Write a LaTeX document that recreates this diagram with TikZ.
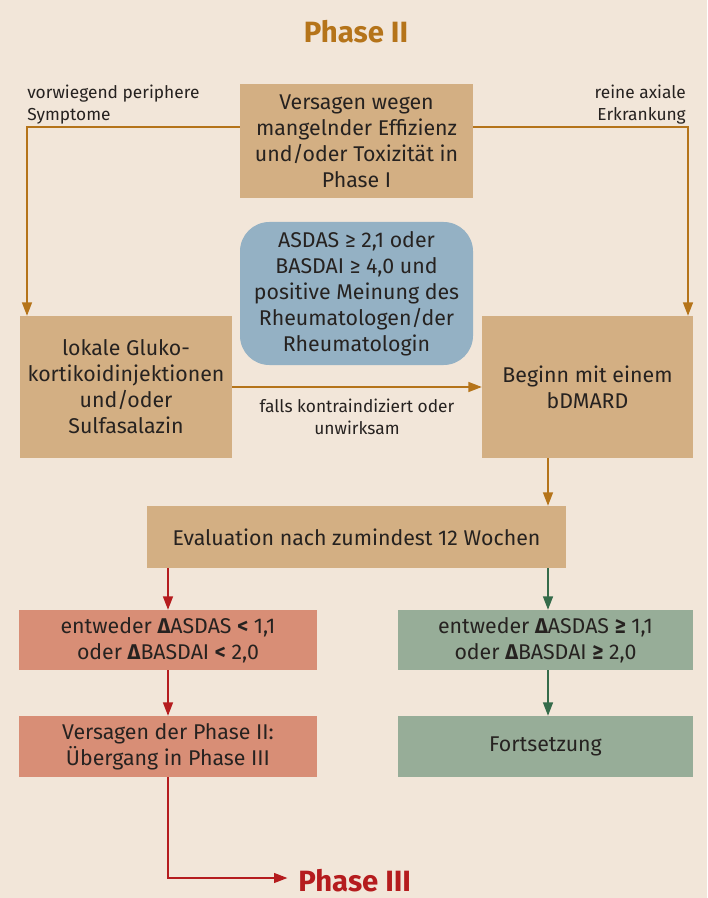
\documentclass[tikz,border=0pt]{standalone}
\usepackage{fontspec}
\setmainfont{Fira Sans}
\usetikzlibrary{arrows.meta}
\definecolor{bg}{HTML}{F2E6D9}
\definecolor{tan}{HTML}{D3AF83}
\definecolor{steel}{HTML}{94B1C4}
\definecolor{salmon}{HTML}{D88E76}
\definecolor{sage}{HTML}{97AD98}
\definecolor{brown}{HTML}{B5741A}
\definecolor{darkred}{HTML}{B51C1E}
\definecolor{darkgreen}{HTML}{356B4A}
\definecolor{ink}{HTML}{262220}
\newcommand{\dlt}{{\bfseries Δ}}

\begin{document}
\begin{tikzpicture}[x=0.75pt,y=-0.75pt,
    box/.style={inner sep=0pt, align=center, text=ink, font=\fontsize{16}{19.5}\selectfont},
    small/.style={inner sep=0pt, text=ink, font=\fontsize{13}{16.5}\selectfont},
    arr/.style={-{Triangle[length=10pt,width=7.5pt]}, line width=0.9pt}]
    \fill[bg] (0,0) rectangle (707,898);
    \useasboundingbox (0,0) rectangle (707,898);
    \node[text=brown, font=\fontsize{22}{26}\bfseries] (phaseii) at (356,32) {Phase II};
    \node[box, fill=tan, minimum width=174.75pt, minimum height=85.5pt] (fail) at (356.5,141) {Versagen wegen\\mangelnder Effizienz\\und/oder Toxizität in\\Phase I};
    \node[box, fill=steel, rounded corners=22pt, minimum width=174.75pt, minimum height=107.25pt] (crit) at (356.5,293.5) {ASDAS ≥ 2,1 oder\\BASDAI ≥ 4,0 und\\positive Meinung des\\Rheumatologen/der\\Rheumatologin};
    \node[box, fill=tan, minimum width=159pt, minimum height=106.5pt] (local) at (126,387) {lokale Gluko-\\kortikoidinjektionen\\und/oder\\Sulfasalazin};
    \node[box, fill=tan, minimum width=158.25pt, minimum height=106.5pt] (bdmard) at (587.5,387) {Beginn mit einem\\bDMARD};
    \node[box, fill=tan, minimum width=314.25pt, minimum height=46.5pt] (eval) at (356.5,537) {Evaluation nach zumindest 12 Wochen};
    \node[box, fill=salmon, minimum width=223.5pt, minimum height=45pt] (bad) at (168,640) {entweder \dlt ASDAS {\bfseries <} 1,1\\oder \dlt BASDAI {\bfseries <} 2,0};
    \node[box, fill=sage, minimum width=221.25pt, minimum height=45pt] (good) at (545.5,640) {entweder \dlt ASDAS {\bfseries ≥} 1,1\\oder \dlt BASDAI {\bfseries ≥} 2,0};
    \node[box, fill=salmon, minimum width=223.5pt, minimum height=45.75pt] (next) at (168,746.5) {Versagen der Phase II:\\Übergang in Phase III};
    \node[box, fill=sage, minimum width=221.25pt, minimum height=45.75pt] (cont) at (545.5,746.5) {Fortsetzung};
    \node[text=darkred, font=\fontsize{22}{26}\bfseries, anchor=west, inner sep=0pt] (phaseiii) at (298,881) {Phase III};
    \node[small, anchor=north west, align=left] (periph) at (27,85) {vorwiegend periphere\\Symptome};
    \node[small, anchor=north east, align=right] (axial) at (686,85) {reine axiale\\Erkrankung};
    \node[small, align=center] (contra) at (357,417) {falls kontraindiziert oder\\unwirksam};
    \coordinate (lt) at (27,127);
    \coordinate (rt) at (688,127);
    \coordinate (lc) at (548,0);
    \coordinate (rc) at (168,0);
    \coordinate (bend) at (168,878);
    \draw[arr, brown] (fail.west |- lt) -- (lt) -- (lt |- local.north);
    \draw[arr, brown] (fail.east |- rt) -- (rt) -- (rt |- bdmard.north);
    \draw[arr, brown] (local.east) -- (bdmard.west);
    \draw[arr, brown] (bdmard.south -| lc) -- (eval.north -| lc);
    \draw[arr, darkred] (eval.south -| rc) -- (bad.north -| rc);
    \draw[arr, darkgreen] (eval.south -| lc) -- (good.north -| lc);
    \draw[arr, darkred] (bad.south) -- (next.north);
    \draw[arr, darkgreen] (good.south -| lc) -- (cont.north -| lc);
    \draw[arr, darkred] (next.south) -- (bend) -- ([xshift=-8pt]phaseiii.west |- bend);
\end{tikzpicture}
\end{document}
